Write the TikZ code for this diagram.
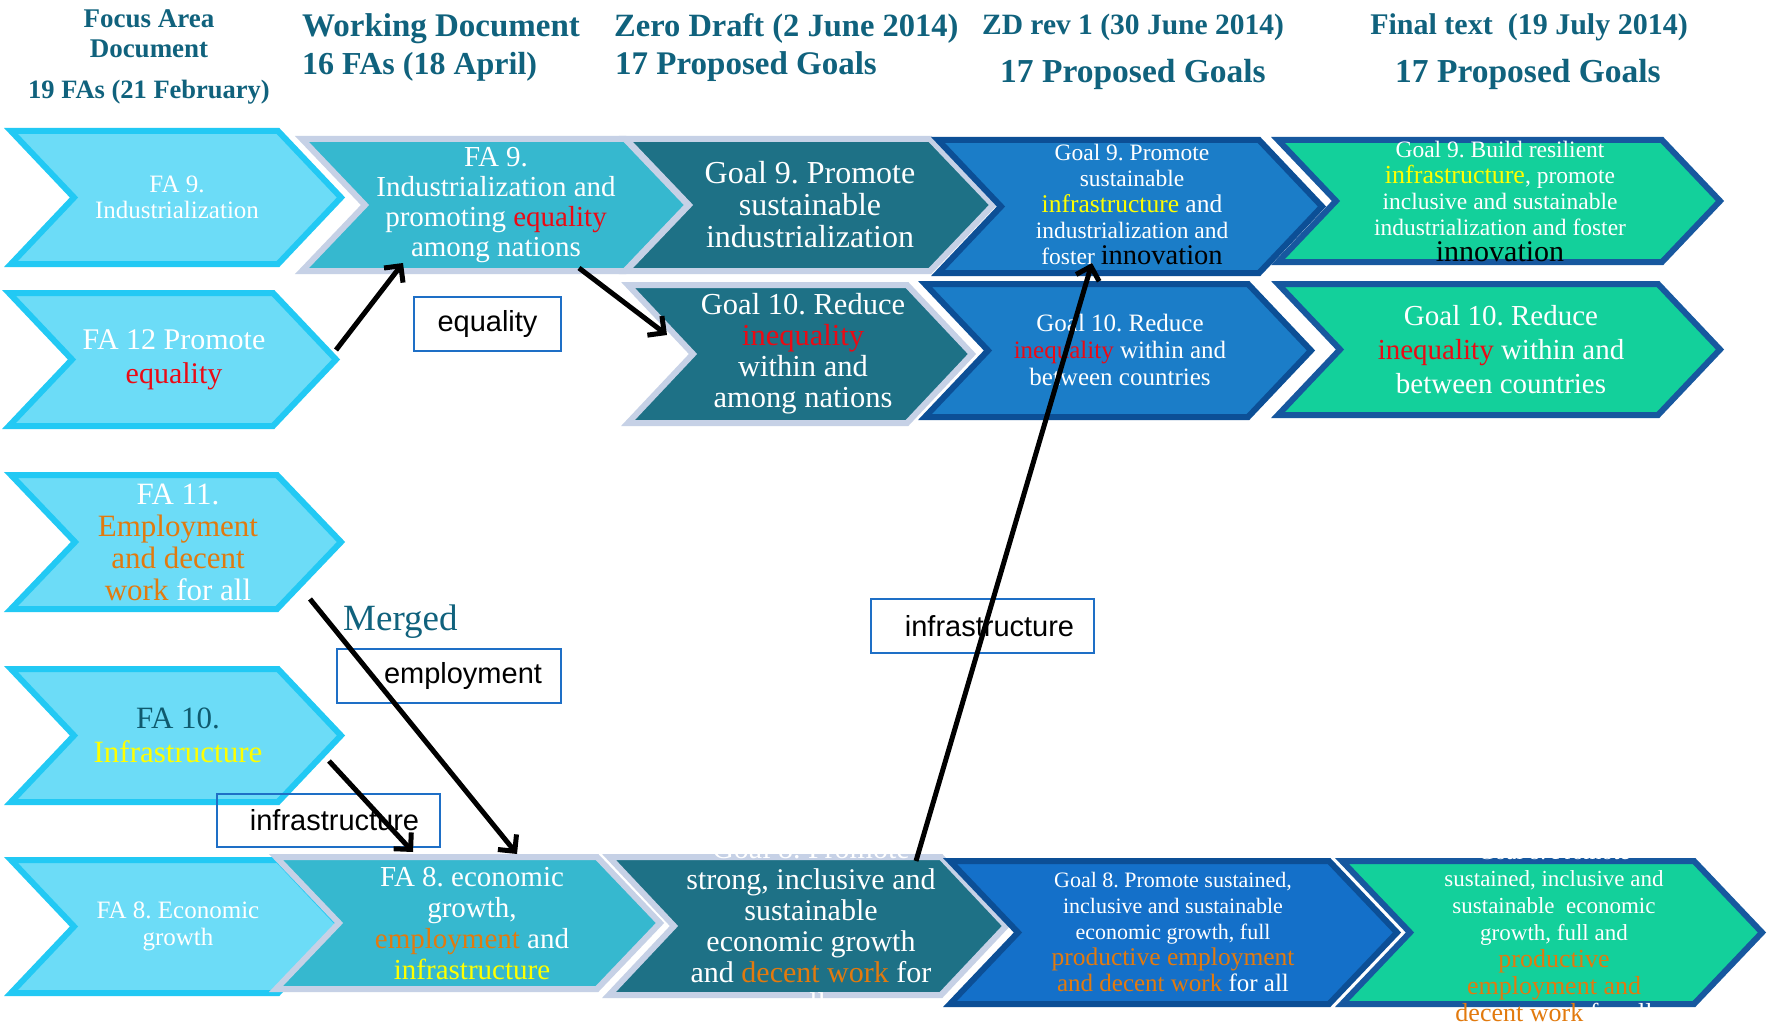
\documentclass[tikz,border=0pt]{standalone}
\usepackage{fontspec}
\setmainfont{Liberation Serif}
\newfontfamily\lsans{Liberation Sans}
\usetikzlibrary{arrows.meta}
\frenchspacing
\definecolor{hdr}{RGB}{16,98,125}
\definecolor{c1fill}{RGB}{108,220,247}
\definecolor{c1line}{RGB}{34,201,244}
\definecolor{c2fill}{RGB}{54,184,207}
\definecolor{c23line}{RGB}{198,209,230}
\definecolor{c3fill}{RGB}{30,113,134}
\definecolor{c4fill}{RGB}{27,125,200}
\definecolor{c4fillb}{RGB}{20,112,201}
\definecolor{c4line}{RGB}{12,79,150}
\definecolor{c5fill}{RGB}{19,208,155}
\definecolor{c5line}{RGB}{23,88,159}
\definecolor{tred}{RGB}{235,10,20}
\definecolor{torange}{RGB}{226,122,14}
\definecolor{tyellow}{RGB}{255,255,0}
\definecolor{tdark}{RGB}{15,90,110}
\definecolor{lblline}{RGB}{30,111,198}
\newcommand{\fs}[2]{\fontsize{#1pt}{#2pt}\selectfont}
\newcommand{\RD}[1]{\textcolor{tred}{#1}}
\newcommand{\OR}[1]{\textcolor{torange}{#1}}
\newcommand{\YE}[1]{\textcolor{tyellow}{#1}}
\newcommand{\chev}[6]{\path[#1] (#2,#3) -- ({#4-#6},#3) -- (#4,{(#3+#5)/2}) -- ({#4-#6},#5) -- (#2,#5) -- ({#2+#6},{(#3+#5)/2}) -- cycle;}
\tikzset{
  col1/.style={fill=c1fill, draw=c1line, line width=6pt, line join=miter},
  col2/.style={fill=c2fill, draw=c23line, line width=6pt, line join=miter},
  col3/.style={fill=c3fill, draw=c23line, line width=6pt, line join=miter},
  col4/.style={fill=c4fill, draw=c4line, line width=6pt, line join=miter},
  col4b/.style={fill=c4fillb, draw=c4line, line width=6pt, line join=miter},
  col5/.style={fill=c5fill, draw=c5line, line width=6pt, line join=miter},
  bt/.style={text=white, align=center, inner sep=0pt},
  hd/.style={text=hdr, inner sep=0pt},
  lbl/.style={draw=lblline, line width=2pt, font=\lsans\fs{29}{32}, inner sep=0pt},
  arr/.style={line width=5pt, -{Straight Barb[length=12pt,width=24pt]}, black}
}
\begin{document}
\begin{tikzpicture}[x=1pt,y=-1pt]
\path[fill=white] (0,0) rectangle (1769,1022);
\useasboundingbox (0,0) rectangle (1769,1022);
% headers
\node[hd, font=\bfseries\fs{27}{30}, anchor=base] (h1a) at (149,28) {Focus Area};
\node[hd, font=\bfseries\fs{27}{30}, anchor=base] (h1b) at (149,58) {Document};
\node[hd, font=\bfseries\fs{26.5}{30}, anchor=base] (h1c) at (149,99) {19 FAs (21 February)};
\node[hd, font=\bfseries\fs{33}{36}, anchor=base west] (h2a) at (302,37) {Working Document};
\node[hd, font=\bfseries\fs{32}{36}, anchor=base west] (h2b) at (302,75) {16 FAs (18 April)};
\node[hd, font=\bfseries\fs{32.5}{36}, anchor=base west] (h3a) at (614,37) {Zero Draft (2 June 2014)};
\node[hd, font=\bfseries\fs{33}{36}, anchor=base west] (h3b) at (615,75) {17 Proposed Goals};
\node[hd, font=\bfseries\fs{29.5}{36}, anchor=base] (h4a) at (1133,35) {ZD rev 1 (30 June 2014)};
\node[hd, font=\bfseries\fs{33.5}{36}, anchor=base] (h4b) at (1133,83) {17 Proposed Goals};
\node[hd, font=\bfseries\fs{30}{36}, anchor=base] (h5a) at (1529,35) {Final text\ \ (19 July 2014)};
\node[hd, font=\bfseries\fs{33.5}{36}, anchor=base] (h5b) at (1528,83) {17 Proposed Goals};
% column 1
\chev{col1}{11}{131}{341}{264}{63}
\chev{col1}{9}{293}{336}{426}{63}
\chev{col1}{11}{475}{341}{609}{64}
\chev{col1}{11}{669}{341}{802}{63}
\chev{col1}{11}{860}{341}{993}{63}
% column 2
\chev{col2}{302}{139}{688}{271}{63}
\chev{col2}{276}{857}{660}{989}{63}
% column 3
\chev{col3}{626}{139}{993}{271}{63}
\chev{col3}{628}{285}{972}{423}{65}
\chev{col3}{609}{857}{1006}{995}{65}
% column 4
\chev{col4}{938}{140}{1322}{273}{63}
\chev{col4}{925}{284}{1311}{417}{63}
\chev{col4b}{950}{861}{1397}{1004}{68}
% column 5
\chev{col5}{1278}{140}{1720}{262}{58}
\chev{col5}{1278}{284}{1720}{415}{62}
\chev{col5}{1342}{861}{1762}{1004}{68}
% texts col 1
\node[bt, font=\fs{25}{26}] (fa9) at (177,197) {FA 9.\\Industrialization};
\node[bt, font=\fs{30}{34}] (fa12) at (174,360) {FA 12 Promote\\\RD{equality}};
\node[bt, font=\fs{31}{32}] (fa11) at (178,542) {FA 11.\\\OR{Employment}\\\OR{and decent}\\\OR{work} for all};
\node[bt, font=\fs{31}{34}] (fa10) at (178,735) {\textcolor{tdark}{FA 10.}\\\YE{Infrastructure}};
\node[bt, font=\fs{25}{27}] (fa8) at (178,926) {FA 8. Economic\\growth};
% col 2
\node[bt, font=\fs{29}{30}] (wd9) at (496,205) {FA 9.\\Industrialization and\\promoting \RD{equality}\\among nations};
\node[bt, font=\fs{29}{31}] (wd8) at (472,923) {FA 8. economic\\growth,\\\OR{employment} and\\\YE{infrastructure}};
% col 3
\node[bt, font=\fs{32}{32}] (zd9) at (810,205) {Goal 9. Promote\\sustainable\\industrialization};
\node[bt, font=\fs{30.5}{31}] (zd10) at (803,354) {Goal 10. Reduce\\\RD{inequality}\\within and\\among nations};
\node[bt, font=\fs{30}{31}] (zd8) at (811,926) {Goal 8. Promote\\strong, inclusive and\\sustainable\\economic growth\\and \OR{decent work} for\\all};
% col 4
\node[bt, font=\fs{23.5}{26}] (r9) at (1132,204) {Goal 9. Promote\\sustainable\\{\fs{25.5}{26}\YE{infrastructure} and}\\industrialization and\\foster {\fs{28.5}{26}\color{black}innovation}};
\node[bt, font=\fs{25}{27}] (r10) at (1120,350) {Goal 10. Reduce\\\RD{inequality} within and\\between countries};
\node[bt, font=\fs{22}{26}] (r8) at (1173,932) {Goal 8. Promote sustained,\\inclusive and sustainable\\economic growth, full\\{\fs{25.5}{27}\OR{productive employment}}\\{\fs{25}{27}\OR{and decent work} for all}};
% col 5
\node[bt, font=\fs{23.5}{26}] (f9) at (1500,201) {Goal 9. Build resilient\\{\fs{26}{26}\YE{infrastructure}}, promote\\inclusive and sustainable\\industrialization and foster\\{\fs{30}{27}\color{black}innovation}};
\node[bt, font=\fs{29}{34}] (f10) at (1501,350) {Goal 10. Reduce\\\RD{inequality} within and\\between countries};
\node[bt, font=\fs{23}{27}] (f8) at (1554,933) {Goal 8. Promote\\sustained, inclusive and\\sustainable\ \ economic\\growth, full and\\{\fs{26}{28}\OR{productive}}\\{\fs{26}{28}\OR{employment and}}\\{\fs{26}{28}\OR{decent work} for all}};
% merged label
\node[hd, font=\fs{37}{40}, anchor=base west] (merged) at (343,630) {Merged};
% label boxes
\node[lbl, minimum width=147pt, minimum height=54pt] (leq) at (487.5,324) {equality};
\node[lbl, minimum width=224pt, minimum height=54pt] (lemp) at (449,676) {\hspace*{28pt}employment};
\node[lbl, minimum width=223pt, minimum height=53pt] (linf1) at (328.5,820.5) {\hspace*{12pt}infrastructure};
\node[lbl, minimum width=223pt, minimum height=54pt] (linf2) at (982.5,626) {\hspace*{14pt}infrastructure};
% arrows
\coordinate (a1s) at (336,350); \coordinate (a1e) at (403,263);
\coordinate (a2s) at (579,268); \coordinate (a2e) at (667,335);
\coordinate (a3s) at (310,599); \coordinate (a3e) at (517,854);
\coordinate (a4s) at (329,761); \coordinate (a4e) at (413,852);
\coordinate (a5s) at (916,861); \coordinate (a5e) at (1092,263);
\draw[arr] (a1s) -- (a1e);
\draw[arr] (a2s) -- (a2e);
\draw[arr] (a3s) -- (a3e);
\draw[arr] (a4s) -- (a4e);
\draw[arr] (a5s) -- (a5e);
\end{tikzpicture}
\end{document}
